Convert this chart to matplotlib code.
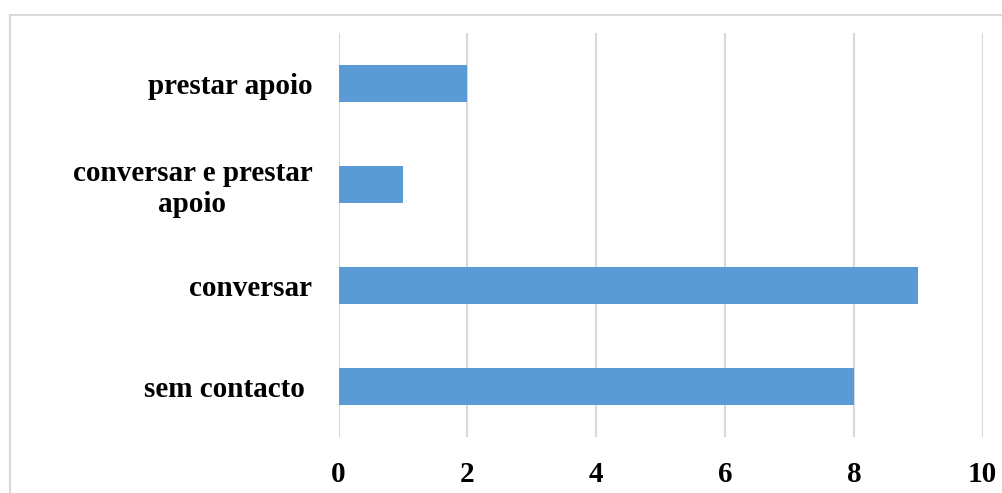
import matplotlib
matplotlib.use("Agg")
import matplotlib.pyplot as plt
from matplotlib.patches import Rectangle

categories = ["sem contacto ", "conversar", "conversar e prestar\napoio", "prestar apoio"]
values = [8, 9, 1, 2]
xticks = [0, 2, 4, 6, 8, 10]

bar_color = "#5B9BD5"
grid_color = "#D9D9D9"

plt.rcParams["font.family"] = ["Liberation Serif", "DejaVu Serif"]
plt.rcParams["font.weight"] = "bold"

fig = plt.figure(figsize=(10.02, 4.93), dpi=100)
ax = fig.add_axes([0.338, 0.1136, 0.6427, 0.8195])

# outer chart frame
fig.patches.append(Rectangle((10 / 1002, -0.1), 1.2, 1 - 15 / 493 + 0.1,
                             transform=fig.transFigure, fill=False,
                             edgecolor=grid_color, linewidth=1.5))

y = range(len(categories))
ax.barh(y, values, height=0.36, color=bar_color, zorder=3)

ax.set_xlim(0, 10)
ax.set_ylim(-0.5, len(categories) - 0.5)
ax.set_xticks(xticks)
ax.set_xticklabels([str(t) for t in xticks], fontsize=21, fontweight="bold")
ax.set_yticks(list(y))
ax.set_yticklabels(categories, fontsize=21, fontweight="bold",
                   multialignment="center", linespacing=1.15)

ax.grid(axis="x", color=grid_color, linewidth=1.5, zorder=0)
ax.tick_params(axis="both", length=0)
ax.tick_params(axis="x", pad=17)
ax.tick_params(axis="y", pad=19)
for s in ax.spines.values():
    s.set_visible(False)

fig.savefig("out.png", dpi=100)
